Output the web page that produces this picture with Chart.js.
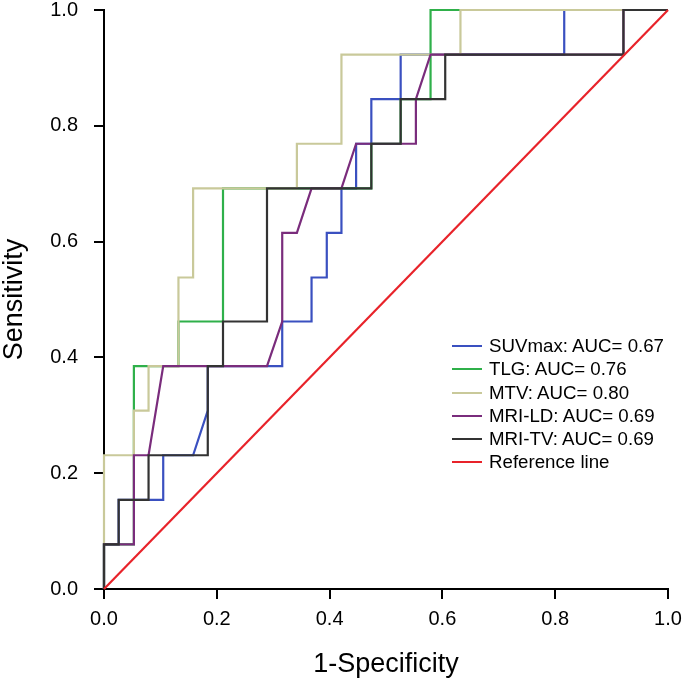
<!DOCTYPE html>
<html>
<head>
<meta charset="utf-8">
<script src="https://cdn.jsdelivr.net/npm/chart.js@4.4.1/dist/chart.umd.min.js"></script>
<style>
  html, body { margin: 0; padding: 0; background: #fff; }
  #wrap { position: relative; width: 685px; height: 684px; }
  #legend { position: absolute; left: 452px; top: 334px; font-family: "Liberation Sans", Arial, sans-serif; font-size: 18.7px; color: #000; }
  .item { position: relative; height: 23.3px; white-space: nowrap; }
  .swatch { position: absolute; left: 0; top: 11px; width: 30px; height: 2px; }
  .label { position: absolute; left: 37px; top: 0; line-height: 23.3px; }
</style>
</head>
<body>
<div id="wrap">
  <canvas id="c"></canvas>
  <div id="legend"></div>
</div>
<script>
// Series names (legend) and colours
const seriesNames = ['SUVmax: AUC= 0.67', 'TLG: AUC= 0.76', 'MTV: AUC= 0.80', 'MRI-LD: AUC= 0.69', 'MRI-TV: AUC= 0.69', 'Reference line'];
const seriesColors = ['#3a50c0', '#2fb04a', '#c9c99a', '#7a2c7c', '#333333', '#e8232a'];

// ROC curves: 1-Specificity (x) and Sensitivity (y)
const suvmaxX = [0, 0, 0.026, 0.026, 0.105, 0.105, 0.158, 0.184, 0.184, 0.316, 0.316, 0.368, 0.368, 0.395, 0.395, 0.421, 0.421, 0.447, 0.447, 0.474, 0.474, 0.526, 0.526, 0.816, 0.816, 1];
const suvmaxY = [0, 0.077, 0.077, 0.154, 0.154, 0.231, 0.231, 0.308, 0.385, 0.385, 0.462, 0.462, 0.538, 0.538, 0.615, 0.615, 0.692, 0.692, 0.769, 0.769, 0.846, 0.846, 0.923, 0.923, 1, 1];

const tlgX = [0, 0, 0.053, 0.053, 0.132, 0.132, 0.211, 0.211, 0.474, 0.474, 0.526, 0.526, 0.579, 0.579, 1];
const tlgY = [0, 0.077, 0.077, 0.385, 0.385, 0.462, 0.462, 0.692, 0.692, 0.769, 0.769, 0.846, 0.846, 1, 1];

const mtvX = [0, 0, 0.053, 0.053, 0.079, 0.079, 0.132, 0.132, 0.158, 0.158, 0.342, 0.342, 0.421, 0.421, 0.632, 0.632, 1];
const mtvY = [0, 0.231, 0.231, 0.308, 0.308, 0.385, 0.385, 0.538, 0.538, 0.692, 0.692, 0.769, 0.769, 0.923, 0.923, 1, 1];

const mriLdX = [0, 0, 0.053, 0.053, 0.079, 0.105, 0.289, 0.316, 0.316, 0.342, 0.368, 0.421, 0.447, 0.553, 0.553, 0.579, 0.921, 0.921, 1];
const mriLdY = [0, 0.077, 0.077, 0.231, 0.231, 0.385, 0.385, 0.462, 0.615, 0.615, 0.692, 0.692, 0.769, 0.769, 0.846, 0.923, 0.923, 1, 1];

const mriTvX = [0, 0, 0.026, 0.026, 0.079, 0.079, 0.184, 0.184, 0.211, 0.211, 0.289, 0.289, 0.474, 0.474, 0.526, 0.526, 0.605, 0.605, 0.921, 0.921, 1];
const mriTvY = [0, 0.077, 0.077, 0.154, 0.154, 0.231, 0.231, 0.385, 0.385, 0.462, 0.462, 0.692, 0.692, 0.769, 0.769, 0.846, 0.846, 0.923, 0.923, 1, 1];

const refX = [0, 1];
const refY = [0, 1];

// Axis ticks
const tickValues = [0, 0.2, 0.4, 0.6, 0.8, 1.0];
const tickLabels = ['0.0', '0.2', '0.4', '0.6', '0.8', '1.0'];

const allX = [suvmaxX, tlgX, mtvX, mriLdX, mriTvX, refX];
const allY = [suvmaxY, tlgY, mtvY, mriLdY, mriTvY, refY];
const drawOrder = [5, 4, 3, 2, 1, 0]; // lower = on top

const datasets = seriesNames.map((name, s) => ({
  label: name,
  data: allX[s].map((x, i) => ({ x: x, y: allY[s][i] })),
  borderColor: seriesColors[s],
  backgroundColor: seriesColors[s],
  borderWidth: 2.2,
  pointRadius: 0,
  pointHoverRadius: 0,
  tension: 0,
  fill: false,
  showLine: true,
  clip: false,
  order: drawOrder[s]
}));

const fontFam = '"Liberation Sans", Arial, sans-serif';

function tickLabel(v) {
  for (let i = 0; i < tickValues.length; i++) {
    if (Math.abs(tickValues[i] - v) < 1e-6) return tickLabels[i];
  }
  return '';
}

new Chart(document.getElementById('c'), {
  type: 'scatter',
  data: { datasets: datasets },
  options: {
    responsive: true,
    maintainAspectRatio: false,
    animation: false,
    events: [],
    layout: { padding: { top: 10, right: 17, left: 0, bottom: 0 } },
    plugins: { legend: { display: false }, tooltip: { enabled: false } },
    scales: {
      x: {
        type: 'linear', min: 0, max: 1,
        afterFit: (s) => { s.height = 95; s.paddingLeft = 0; s.paddingRight = 0; },
        afterBuildTicks: (s) => { s.ticks = tickValues.map(v => ({ value: v })); },
        ticks: { callback: tickLabel, color: '#000', font: { family: fontFam, size: 20 }, padding: 8, maxRotation: 0 },
        grid: { drawOnChartArea: false, drawTicks: true, tickLength: 10, color: '#000', lineWidth: 2 },
        border: { display: true, color: '#000', width: 2 },
        title: { display: true, text: '1-Specificity', color: '#000', font: { family: fontFam, size: 27, lineHeight: 1.2 }, padding: { top: 0, bottom: 3 } }
      },
      y: {
        type: 'linear', min: 0, max: 1,
        afterFit: (s) => { s.width = 104; s.paddingTop = 0; s.paddingBottom = 0; },
        afterBuildTicks: (s) => { s.ticks = tickValues.map(v => ({ value: v })); },
        ticks: { callback: tickLabel, color: '#000', font: { family: fontFam, size: 20 }, padding: 16 },
        grid: { drawOnChartArea: false, drawTicks: true, tickLength: 10, color: '#000', lineWidth: 2 },
        border: { display: true, color: '#000', width: 2 },
        title: { display: true, text: 'Sensitivity', color: '#000', font: { family: fontFam, size: 27, lineHeight: 1.1 }, padding: { top: 0, bottom: 0 } }
      }
    }
  }
});

// HTML legend built from series arrays
const legend = document.getElementById('legend');
seriesNames.forEach((name, s) => {
  const item = document.createElement('div');
  item.className = 'item';
  const sw = document.createElement('div');
  sw.className = 'swatch';
  sw.style.background = seriesColors[s];
  const lb = document.createElement('div');
  lb.className = 'label';
  lb.textContent = name;
  item.appendChild(sw);
  item.appendChild(lb);
  legend.appendChild(item);
});
</script>
</body>
</html>
